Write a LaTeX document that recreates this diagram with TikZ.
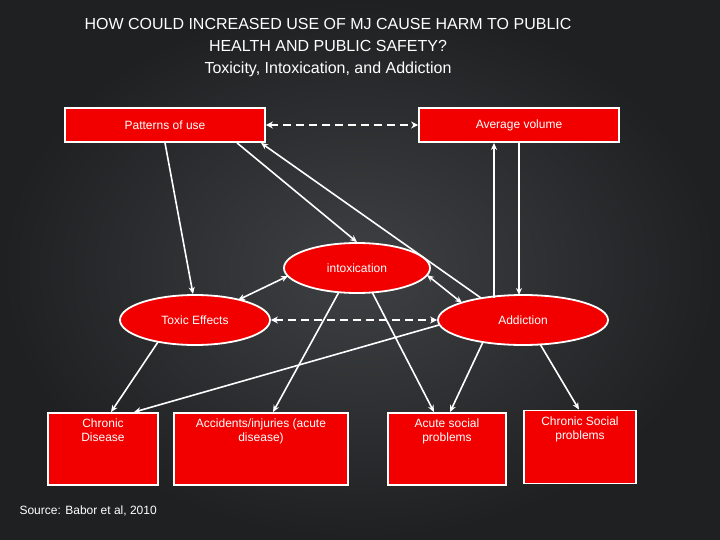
\documentclass[tikz,border=0pt]{standalone}
\usepackage{fontspec}
\setmainfont{Liberation Sans}
\usetikzlibrary{arrows.meta,shapes.geometric}
\definecolor{boxred}{HTML}{F20000}
\definecolor{bgdark}{HTML}{2E3134}
\tikzset{
  box/.style={draw=white, line width=1.8pt, fill=boxred, text=white, inner sep=0pt, font=\fontsize{12}{14}\selectfont},
  oval/.style={ellipse, draw=white, line width=1.8pt, fill=boxred, text=white, inner sep=0pt, font=\fontsize{12}{14}\selectfont},
  link/.style={draw=white, line width=1.6pt, -{Stealth[length=7pt,width=6pt]}},
  twoway/.style={draw=white, line width=1.6pt, {Stealth[length=7pt,width=6pt]}-{Stealth[length=7pt,width=6pt]}},
  dashlink/.style={draw=white, line width=2.6pt, dash pattern=on 8pt off 5pt, {Stealth[length=7pt,width=7pt]}-{Stealth[length=7pt,width=7pt]}}
}
\newcommand{\boxtext}[3]{\parbox[t][#2][t]{#1}{\centering\vspace{6pt}#3}}
\begin{document}
\begin{tikzpicture}[x=1pt,y=-1pt]
  \shade[inner color=bgdark!80!gray, outer color=bgdark!65!black, shading=radial] (0,0) rectangle (720,540);
  \useasboundingbox (0,0) rectangle (720,540);

  % title
  \node[text=white, align=center, font=\fontsize{16}{22}\selectfont] (title) at (328,48)
    {HOW COULD INCREASED USE OF MJ CAUSE HARM TO PUBLIC\\ HEALTH AND PUBLIC SAFETY?\\ Toxicity, Intoxication, and Addiction};

  % top row
  \node[box, minimum width=200pt, minimum height=34pt] (pat) at (165,125) {Patterns of use};
  \node[box, minimum width=200pt, minimum height=34pt] (avg) at (519,125) {Average volume};

  % middle
  \node[oval, minimum width=146pt, minimum height=50pt] (intox) at (357,268) {intoxication};
  \node[oval, minimum width=150pt, minimum height=50pt] (tox) at (195,320) {Toxic Effects};
  \node[oval, minimum width=170pt, minimum height=50pt] (add) at (523,320) {Addiction};

  % outcomes
  \node[box] (cd) at (103,449) {\boxtext{110pt}{72pt}{Chronic\\ Disease}};
  \node[box] (acc) at (261,449) {\boxtext{174pt}{72pt}{Accidents/injuries (acute\\ disease)}};
  \node[box] (acs) at (447,449) {\boxtext{118pt}{72pt}{Acute social\\ problems}};
  \node[box] (cs) at (580,447) {\boxtext{112pt}{73pt}{Chronic Social\\ problems}};

  \node[text=white, anchor=west, font=\fontsize{12}{14}\selectfont] (src) at (16,511) {Source: Babor et al, 2010};

  % connectors
  \draw[dashlink] (pat.east) -- (avg.west);
  \draw[dashlink] (tox.east) -- (add.west);
  \draw[link] (pat.south) -- ([xshift=-2pt]tox.north);
  \draw[link] ([xshift=72pt]pat.south) -- (intox.north);
  \draw[link] ([shift={(-42pt,22pt)}]add.center) -- ([xshift=96pt]pat.south);
  \draw[twoway] ([shift={(-69pt,-8pt)}]intox.center) -- ([shift={(43pt,20pt)}]tox.center);
  \draw[twoway] ([shift={(70pt,-7pt)}]intox.center) -- ([shift={(-61pt,17pt)}]add.center);
  \draw[link] ([shift={(-29pt,22pt)}]add.center) -- ([xshift=-25pt]avg.south);
  \draw[link] (avg.south) -- ([shift={(-4pt,25pt)}]add.center);
  \draw[link] ([shift={(-37pt,-22pt)}]tox.center) -- ([xshift=8pt]cd.north);
  \draw[link] ([shift={(-84pt,-5pt)}]add.center) -- ([xshift=31pt]cd.north);
  \draw[link] ([shift={(-18pt,-24pt)}]intox.center) -- ([xshift=12pt]acc.north);
  \draw[link] ([shift={(15pt,-24pt)}]intox.center) -- ([xshift=-13pt]acs.north);
  \draw[link] ([shift={(-40pt,-22pt)}]add.center) -- ([xshift=3pt]acs.north);
  \draw[link] ([shift={(17pt,-24pt)}]add.center) -- ([xshift=-1pt]cs.north);
\end{tikzpicture}
\end{document}
